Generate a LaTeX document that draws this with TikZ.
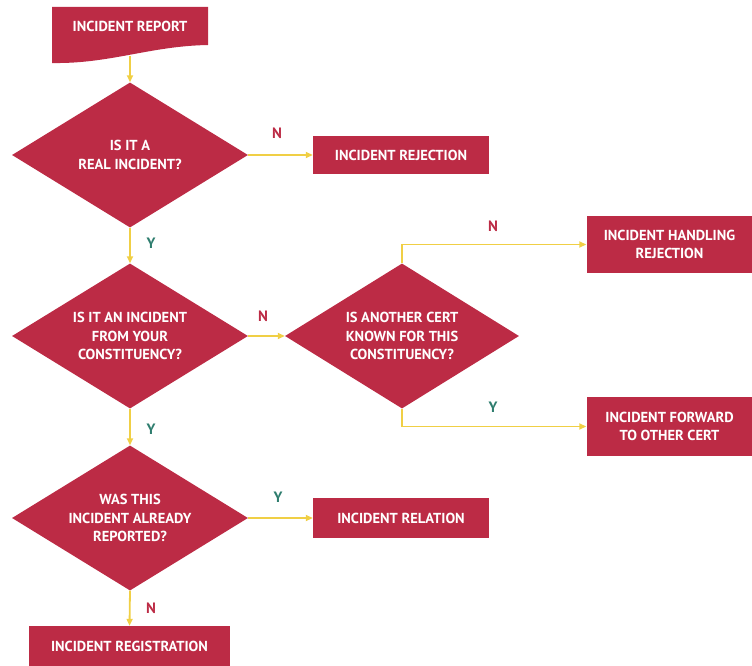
\documentclass[tikz,border=0pt]{standalone}
\usepackage{fontspec}
\setmainfont{PT Sans}
\usetikzlibrary{shapes.geometric,arrows.meta}
\definecolor{cred}{HTML}{BC2B45}
\definecolor{cyel}{HTML}{F0CF45}
\definecolor{cteal}{HTML}{2E7D6E}
\tikzset{
  txt/.style={text=white,font=\bfseries\fontsize{14.5}{18.5}\selectfont,align=center},
  box/.style={txt,fill=cred,draw=none,inner sep=0pt},
  dia/.style={diamond,fill=cred,draw=none,inner sep=0pt,minimum width=236pt,minimum height=145pt},
  conn/.style={cyel,line width=1.8pt,-{Triangle[length=7pt,width=6pt]}},
  nlab/.style={text=cred,font=\bfseries\fontsize{15}{17}\selectfont},
  ylab/.style={text=cteal,font=\bfseries\fontsize{15}{17}\selectfont}
}
\begin{document}
\begin{tikzpicture}[x=1pt,y=-1pt]
\useasboundingbox (0,0) rectangle (752,666);
% document shape
\fill[cred] (52,7) -- (208,7) -- (208,45) .. controls (150,46) and (110,64) .. (52,63) -- cycle;
\node[txt,minimum width=156pt,minimum height=20pt,inner sep=0pt] (rep) at (130,26) {INCIDENT REPORT};
\coordinate (repb) at (130,56);
% diamonds
\node[dia] (d1) at (130,155) {};
\node[txt] (t1) at (d1.center) {IS IT A\\REAL INCIDENT?};
\node[dia] (d2) at (130,336) {};
\node[txt] (t2) at (d2.center) {IS IT AN INCIDENT\\FROM YOUR\\CONSTITUENCY?};
\node[dia,minimum width=234pt] (d3) at (402,336) {};
\node[txt] (t3) at (d3.center) {IS ANOTHER CERT\\KNOWN FOR THIS\\CONSTITUENCY?};
\node[dia] (d4) at (130,518) {};
\node[txt] (t4) at (d4.center) {WAS THIS\\INCIDENT ALREADY\\REPORTED?};
% boxes
\node[box,minimum width=176pt,minimum height=38pt] (rej) at (401,155) {INCIDENT REJECTION};
\node[box,minimum width=166pt,minimum height=57pt] (hrej) at (669.5,244.5) {INCIDENT HANDLING\\REJECTION};
\node[box,minimum width=166pt,minimum height=59pt] (fwd) at (669.5,426.5) {INCIDENT FORWARD\\TO OTHER CERT};
\node[box,minimum width=176pt,minimum height=40pt] (rel) at (401,518) {INCIDENT RELATION};
\node[box,minimum width=201pt,minimum height=40pt] (reg) at (129.5,646) {INCIDENT REGISTRATION};
% connectors
\draw[conn] (repb) -- (d1.north);
\draw[conn] (d1.east) -- (rej.west);
\draw[conn] (d1.south) -- (d2.north);
\draw[conn] (d2.east) -- (d3.west);
\draw[conn] (d3.north) |- (hrej.west);
\draw[conn] (d3.south) |- (fwd.west);
\draw[conn] (d2.south) -- (d4.north);
\draw[conn] (d4.east) -- (rel.west);
\draw[conn] (d4.south) -- (reg.north);
% labels
\node[nlab] (l1) at (277,133) {N};
\node[ylab] (l2) at (151,243) {Y};
\node[nlab] (l3) at (263,316) {N};
\node[nlab] (l4) at (493,226) {N};
\node[ylab] (l5) at (493,407) {Y};
\node[ylab] (l6) at (151,429) {Y};
\node[ylab] (l7) at (278,497) {Y};
\node[nlab] (l8) at (151,608) {N};
\end{tikzpicture}
\end{document}
